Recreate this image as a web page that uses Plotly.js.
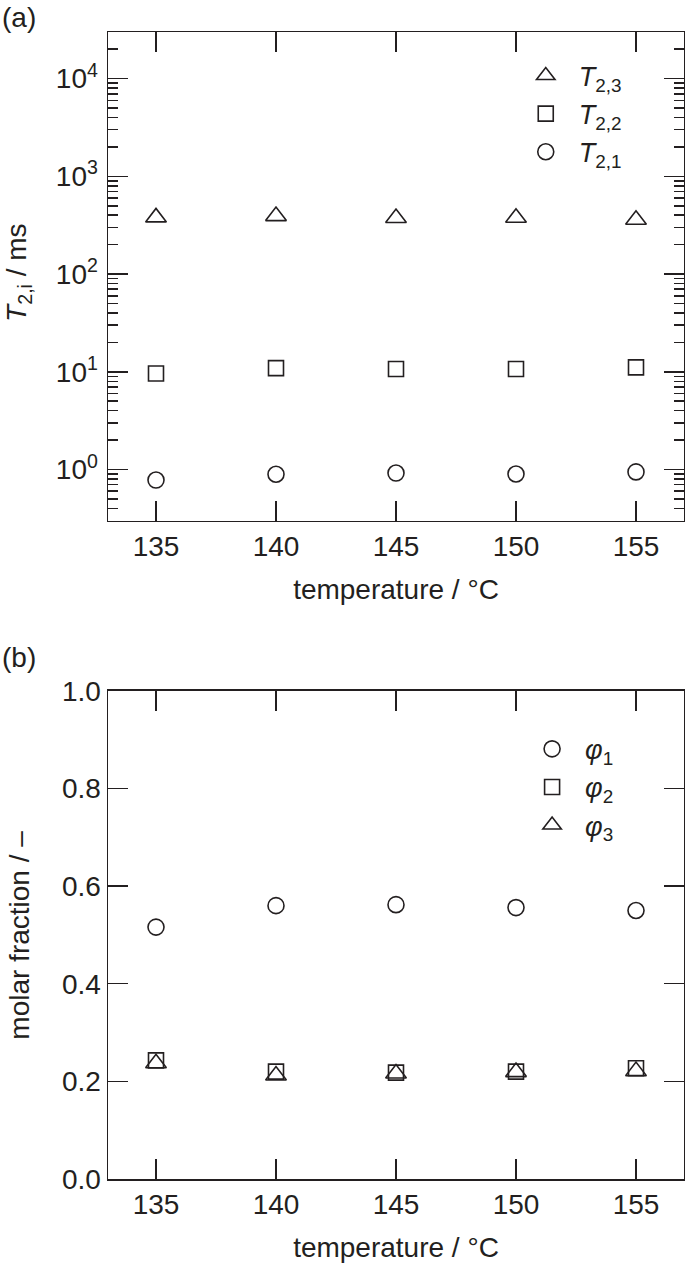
<!DOCTYPE html>
<html>
<head>
<meta charset="utf-8">
<script src="https://cdn.plot.ly/plotly-3.0.1.min.js"></script>
<style>
  html, body { margin: 0; padding: 0; background: #fff; }
  #chart { width: 685px; height: 1264px; }
</style>
</head>
<body>
<div id="chart"></div>
<script>
// temperatures (°C)
const temps = [135, 140, 145, 150, 155];

// (a) relaxation times T2,i in ms
const t23 = [380, 392, 375, 377, 360];
const t22 = [9.6, 10.9, 10.7, 10.7, 11.1];
const t21 = [0.78, 0.895, 0.92, 0.90, 0.945];

// (b) molar fractions
const phi1 = [0.516, 0.560, 0.562, 0.556, 0.550];
const phi2 = [0.243, 0.220, 0.218, 0.220, 0.227];
const phi3 = [0.237, 0.212, 0.216, 0.219, 0.221];

// log axis labels
const logTickVals = [1, 10, 100, 1000, 10000];
const logTickText = ['10<sup>0</sup>', '10<sup>1</sup>', '10<sup>2</sup>', '10<sup>3</sup>', '10<sup>4</sup>'];
const xTickVals = [135, 140, 145, 150, 155];

const ink = '#231f20';
const fontFam = '"Liberation Sans", Arial, Helvetica, sans-serif';

function pts(x, y, name, symbol, size, yaxis, legend) {
  return {
    x: x, y: y, name: name, type: 'scatter', mode: 'markers',
    xaxis: yaxis === 'y' ? 'x' : 'x2', yaxis: yaxis, legend: legend,
    marker: { symbol: symbol, size: size, color: ink, line: { width: 1.6, color: ink } }
  };
}

const data = [
  pts(temps, t23, '<i>T</i><sub>2,3</sub>', 'triangle-up-open', 18, 'y', 'legend'),
  pts(temps, t22, '<i>T</i><sub>2,2</sub>', 'square-open', 15, 'y', 'legend'),
  pts(temps, t21, '<i>T</i><sub>2,1</sub>', 'circle-open', 16, 'y', 'legend'),
  pts(temps, phi1, '<i>φ</i><sub>1</sub>', 'circle-open', 16, 'y2', 'legend2'),
  pts(temps, phi2, '<i>φ</i><sub>2</sub>', 'square-open', 15, 'y2', 'legend2'),
  pts(temps, phi3, '<i>φ</i><sub>3</sub>', 'triangle-up-open', 18, 'y2', 'legend2')
];

const frame = {
  showline: true, linecolor: ink, linewidth: 1.5, mirror: 'ticks',
  ticks: 'inside', ticklen: 20, tickwidth: 1.5, tickcolor: ink,
  showgrid: false, zeroline: false,
  tickfont: { size: 28, color: ink }
};

const xAxis = (anchor) => Object.assign({}, frame, {
  anchor: anchor, range: [133, 157], tickmode: 'array', tickvals: xTickVals,
  title: { text: 'temperature / °C', font: { size: 28, color: ink }, standoff: 18 }
});

const layout = {
  width: 685, height: 1264,
  margin: { l: 108, r: 1, t: 32, b: 85 },
  paper_bgcolor: '#fff', plot_bgcolor: '#fff',
  font: { family: fontFam, color: ink, size: 28 },
  showlegend: true,
  xaxis: xAxis('y'),
  xaxis2: xAxis('y2'),
  yaxis: Object.assign({}, frame, {
    domain: [0.574, 1], type: 'log', anchor: 'x',
    range: [Math.log10(0.3), Math.log10(30000)],
    tickmode: 'array', tickvals: logTickVals, ticktext: logTickText,
    ticklabelstandoff: 3,
    minor: { ticks: 'inside', ticklen: 10, tickwidth: 1.5, tickcolor: ink, dtick: 'D1', showgrid: false }
  }),
  yaxis2: Object.assign({}, frame, {
    domain: [0, 0.4256], anchor: 'x2', range: [0, 1],
    tickmode: 'array', tickvals: [0, 0.2, 0.4, 0.6, 0.8, 1.0],
    tickformat: '.1f'
  }),
  legend: {
    x: 0.7027, y: 0.983, xanchor: 'left', yanchor: 'top', itemwidth: 56,
    bgcolor: 'rgba(0,0,0,0)', font: { size: 27, color: ink }
  },
  legend2: {
    x: 0.7137, y: 0.396, xanchor: 'left', yanchor: 'top', itemwidth: 56,
    bgcolor: 'rgba(0,0,0,0)', font: { size: 27, color: ink }
  },
  annotations: [
    { text: '(a)', xref: 'paper', yref: 'paper', x: -0.1875, y: 1.013, xanchor: 'left', yanchor: 'middle', showarrow: false, font: { size: 28, color: ink } },
    { text: '(b)', xref: 'paper', yref: 'paper', x: -0.1875, y: 0.4544, xanchor: 'left', yanchor: 'middle', showarrow: false, font: { size: 28, color: ink } },
    { text: '<i>T</i><sub>2,i</sub> / ms', textangle: -90, xref: 'paper', yref: 'paper', x: -0.1545, y: 0.790, xanchor: 'center', yanchor: 'middle', showarrow: false, font: { size: 28, color: ink } },
    { text: 'molar fraction / –', textangle: -90, xref: 'paper', yref: 'paper', x: -0.1528, y: 0.213, xanchor: 'center', yanchor: 'middle', showarrow: false, font: { size: 28, color: ink } }
  ]
};

Plotly.newPlot('chart', data, layout, { staticPlot: true });
</script>
</body>
</html>
